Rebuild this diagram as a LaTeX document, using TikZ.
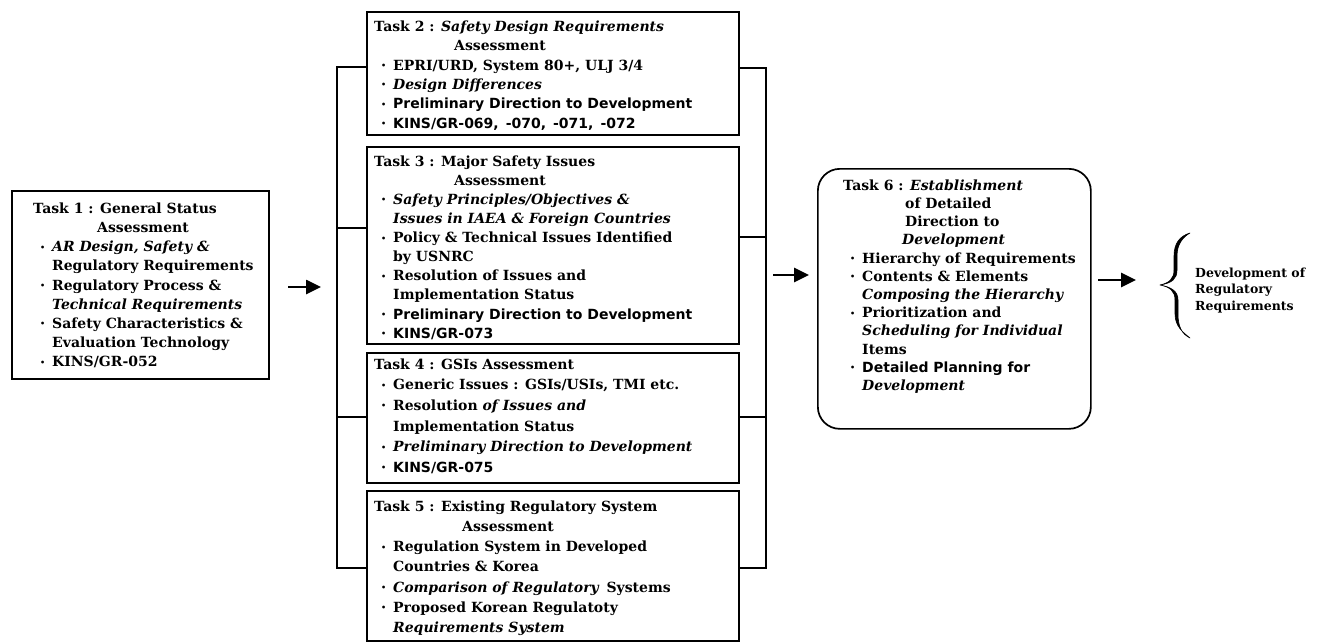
\documentclass[tikz,border=0pt]{standalone}
\usepackage{fontspec}
\setmainfont{DejaVu Serif}
\newfontfamily\sanf{DejaVu Sans}
\usetikzlibrary{arrows.meta}
\newcommand\bul{\makebox[12pt][l]{\raisebox{1.5pt}{\fontsize{8}{8}\selectfont •}}}
\newcommand\bl{\hspace*{7pt}\bul}
\newcommand\cn{\hspace*{19pt}}
\newcommand\fl{\rule{0pt}{11pt}}
\begin{document}
\begin{tikzpicture}[x=1pt,y=-1pt,
  box/.style={draw, line width=1.7pt, inner sep=0pt, anchor=north west},
  txt/.style={anchor=north west, inner sep=0pt, align=left},
  conn/.style={line width=1.7pt},
  arr/.style={line width=2.6pt, -{Triangle[length=15pt,width=14pt]}},
  bracepath/.style={fill=black, draw=black, line width=0.6pt, line join=round},
]
\useasboundingbox (0,0) rectangle (1339,643);

% boxes
\node[box, minimum width=257pt, minimum height=188pt] (t1) at (11,190) {};
\node[box, minimum width=372pt, minimum height=123pt] (t2) at (366,11) {};
\node[box, minimum width=372pt, minimum height=197pt] (t3) at (366,146) {};
\node[box, minimum width=372pt, minimum height=130pt] (t4) at (366,352) {};
\node[box, minimum width=372pt, minimum height=150pt] (t5) at (366,490) {};
\node[box, rounded corners=22pt, minimum width=273pt, minimum height=260pt] (t6) at (817,168) {};

% texts
\node[txt, font=\fontsize{14}{19.2}\selectfont\bfseries] (t1x) at (33,202) {\fl Task 1 : General Status\\
\hspace*{64pt}Assessment\\
\bl\textit{AR Design, Safety \&}\\
\cn Regulatory Requirements\\
\bl Regulatory Process \&\\
\cn\textit{Technical Requirements}\\
\bl Safety Characteristics \&\\
\cn Evaluation Technology\\
\bl KINS/GR-052};

\node[txt, font=\fontsize{14}{19.4}\selectfont\bfseries] (t2x) at (374,20) {\fl Task 2 : \textit{Safety Design Requirements}\\
\hspace*{80pt}Assessment\\
\bl EPRI/URD, System 80+, ULJ 3/4\\
\bl\textit{Design Differences}\\
\bl{\sanf Preliminary Direction to Development}\\
\bl{\sanf KINS/GR-069,\enspace -070,\enspace -071,\enspace -072}};

\node[txt, font=\fontsize{14}{19.1}\selectfont\bfseries] (t3x) at (374,155) {\fl Task 3 : Major Safety Issues\\
\hspace*{80pt}Assessment\\
\bl\textit{Safety Principles/Objectives \&}\\
\cn\textit{Issues in IAEA \& Foreign Countries}\\
\bl Policy \& Technical Issues Identified\\
\cn by USNRC\\
\bl Resolution of Issues and\\
\cn Implementation Status\\
\bl{\sanf Preliminary Direction to Development}\\
\bl{\sanf KINS/GR-073}};

\node[txt, font=\fontsize{14}{20.6}\selectfont\bfseries] (t4x) at (374,358) {\fl Task 4 : GSIs Assessment\\
\bl Generic Issues : GSIs/USIs, TMI etc.\\
\bl Resolution \textit{of Issues and}\\
\cn Implementation Status\\
\bl\textit{Preliminary Direction to Development}\\
\bl{\sanf KINS/GR-075}};

\node[txt, font=\fontsize{14}{20.2}\selectfont\bfseries] (t5x) at (374,500) {\fl Task 5 : Existing Regulatory System\\
\hspace*{88pt}Assessment\\
\bl Regulation System in Developed\\
\cn Countries \& Korea\\
\bl\textit{Comparison of Regulatory}\enspace Systems\\
\bl Proposed Korean Regulatoty\\
\cn\textit{Requirements System}};

\node[txt, font=\fontsize{14}{18.2}\selectfont\bfseries] (t6x) at (843,179) {\fl Task 6 : \textit{Establishment}\\
\hspace*{62pt}of Detailed\\
\hspace*{62pt}Direction to\\
\hspace*{59pt}\textit{Development}\\
\bl Hierarchy of Requirements\\
\bl Contents \& Elements\\
\cn\textit{Composing the Hierarchy}\\
\bl Prioritization and\\
\cn\textit{Scheduling for Individual}\\
\cn Items\\
\bl{\sanf Detailed Planning for}\\
\cn\textit{Development}};

% left bracket
\coordinate (lt) at (337,67);
\coordinate (l3) at (337,228);
\coordinate (l4) at (337,417);
\coordinate (lb) at (337,568);
\draw[conn] (t2.west |- lt) -- (lt) -- (lb) -- (t5.west |- lb);
\draw[conn] (t3.west |- l3) -- (l3);
\draw[conn] (t4.west |- l4) -- (l4);

% right bracket
\coordinate (rt) at (766,68);
\coordinate (r3) at (766,237);
\coordinate (r4) at (766,417);
\coordinate (rb) at (766,568);
\draw[conn] (t2.east |- rt) -- (rt) -- (rb) -- (t5.east |- rb);
\draw[conn] (t3.east |- r3) -- (r3);
\draw[conn] (t4.east |- r4) -- (r4);

% arrows
\coordinate (a1s) at (288,287);
\coordinate (a1e) at (321,287);
\coordinate (a2s) at (773,275);
\coordinate (a2e) at (809,275);
\coordinate (a3s) at (1098,280);
\coordinate (a3e) at (1136,280);
\draw[arr] (a1s) -- (a1e);
\draw[arr] (a2s) -- (a2e);
\draw[arr] (a3s) -- (a3e);

% brace (tapered, filled)
\coordinate (brtip) at (1160,285);
\path[bracepath]
  (1190,233) .. controls (1180,236) and (1174,243) .. (1174,256)
  -- (1174,270) .. controls (1174,279) and (1169,283) .. (brtip)
  .. controls (1171,287) and (1178,291) .. (1178,300)
  -- (1178,314) .. controls (1178,327) and (1182,334) .. (1190,338)
  .. controls (1184,333) and (1175,327) .. (1175,314)
  -- (1175,300) .. controls (1175,291) and (1170,287) .. (brtip)
  .. controls (1172,283) and (1177,279) .. (1177,270)
  -- (1177,256) .. controls (1177,244) and (1183,237) .. (1190,233) -- cycle;
\node[txt, font=\fontsize{12.5}{16.5}\selectfont\bfseries] (dev) at (1195,267) {\rule{0pt}{10pt}Development of\\Regulatory\\Requirements};
\end{tikzpicture}
\end{document}
